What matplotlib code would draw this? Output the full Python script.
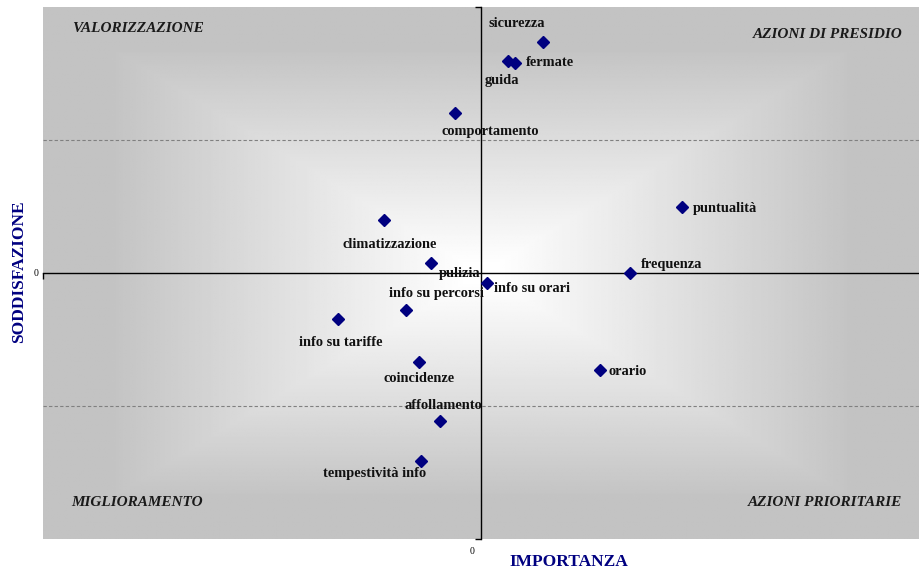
import numpy as np
import matplotlib
matplotlib.use('Agg')
import matplotlib.pyplot as plt
import matplotlib.transforms as mtransforms

# Items of the importance / satisfaction map
items = ['sicurezza', 'guida', 'fermate', 'comportamento', 'puntualità',
         'frequenza', 'info su orari', 'climatizzazione', 'pulizia',
         'info su percorsi', 'info su tariffe', 'coincidenze',
         'affollamento', 'tempestività info', 'orario']
importanza = [0.140, 0.060, 0.078, -0.060, 0.459,
              0.339, 0.012, -0.223, -0.115,
              -0.172, -0.328, -0.141,
              -0.094, -0.138, 0.270]
soddisfazione = [0.870, 0.799, 0.791, 0.602, 0.248,
                 0.001, -0.035, 0.199, 0.039,
                 -0.137, -0.172, -0.332,
                 -0.555, -0.706, -0.365]

# label placement (offset in points, horizontal alignment)
label_pos = {
    'sicurezza': (-18.7, 13, 'center'),
    'guida': (-4.1, -14.1, 'center'),
    'fermate': (7.2, 0, 'left'),
    'comportamento': (25.7, -13, 'center'),
    'puntualità': (7.2, -0.7, 'left'),
    'frequenza': (7.6, 6.3, 'left'),
    'info su orari': (5.5, -4, 'left'),
    'climatizzazione': (4.2, -17.3, 'center'),
    'pulizia': (20.9, -7.4, 'center'),
    'info su percorsi': (22.3, 11.8, 'center'),
    'info su tariffe': (2.2, -16.8, 'center'),
    'coincidenze': (0, -12.5, 'center'),
    'affollamento': (2.7, 11.3, 'center'),
    'tempestività info': (-33, -8.6, 'center'),
    'orario': (6.7, -0.5, 'left'),
}

navy = '#000080'
serif = ['Liberation Serif', 'DejaVu Serif']

fig = plt.figure(figsize=(9.2, 5.69), dpi=100)
ax = fig.add_axes([43 / 920, 1 - 539.3 / 569, 876.6 / 920, 532 / 569])
ax.set_xlim(-1, 1)
ax.set_ylim(-1, 1)

# rectangular "from center" gradient background
n = 400
u = np.linspace(-1, 1, n)
U, V = np.meshgrid(u, u)
t = np.maximum(np.abs(U), np.abs(V))
shade = 1 - 0.235 * np.clip((t - 0.03) / 0.82, 0, 1)
ax.imshow(shade, cmap='gray', vmin=0, vmax=1, extent=[-1, 1, -1, 1],
          aspect='auto', zorder=0, interpolation='bilinear')

# dashed reference lines
for yy in [0.5, -0.5]:
    ax.axhline(yy, color='#808080', lw=0.8, dashes=(3, 2), zorder=1)

# axes crossing at zero
for s in ['top', 'right']:
    ax.spines[s].set_visible(False)
ax.spines['left'].set_position(('data', 0))
ax.spines['bottom'].set_position(('data', 0))
ax.spines['left'].set_linewidth(1.0)
ax.spines['bottom'].set_linewidth(1.0)
ax.spines['left'].set_zorder(2)
ax.spines['bottom'].set_zorder(2)
ax.set_xticks([-1, 1])
ax.set_yticks([-1, 1])
ax.tick_params(length=4, width=1.0, labelleft=False, labelbottom=False)

# zero labels in "low" position
ax.text(-0.005, 0, '0', transform=mtransforms.blended_transform_factory(ax.transAxes, ax.transData),
        ha='right', va='center', fontsize=7, family=serif)
ax.text(-0.02, -0.0233, '0', transform=mtransforms.blended_transform_factory(ax.transData, ax.transAxes),
        ha='center', va='center', fontsize=7, family=serif)

ax.plot(importanza, soddisfazione, linestyle='none', marker='D', markersize=6,
        color=navy, zorder=3)

for name, x, y in zip(items, importanza, soddisfazione):
    dx, dy, ha = label_pos[name]
    ax.annotate(name, (x, y), xytext=(dx, dy), textcoords='offset points',
                ha=ha, va='center', fontsize=10.4, fontweight='bold',
                family=serif, color='#111111', zorder=4)

# quadrant names
quad_kw = dict(transform=ax.transAxes, fontsize=11, fontweight='bold', style='italic',
               family=serif, color='#1a1a1a', va='center')
ax.text(0.0327, 0.9598, 'VALORIZZAZIONE', ha='left', **quad_kw)
ax.text(0.9803, 0.9485, 'AZIONI DI PRESIDIO', ha='right', **quad_kw)
ax.text(0.0327, 0.0696, 'MIGLIORAMENTO', ha='left', **quad_kw)
ax.text(0.9803, 0.0696, 'AZIONI PRIORITARIE', ha='right', **quad_kw)

# axis titles
fig.text(569 / 920, 1 - 561.7 / 569, 'IMPORTANZA', ha='center', va='center',
         fontsize=12.5, fontweight='bold', family=serif, color=navy)
fig.text(19 / 920, 1 - 272 / 569, 'SODDISFAZIONE', ha='center', va='center', rotation=90,
         fontsize=12.5, fontweight='bold', family=serif, color=navy)

fig.savefig('out.png', dpi=100)
